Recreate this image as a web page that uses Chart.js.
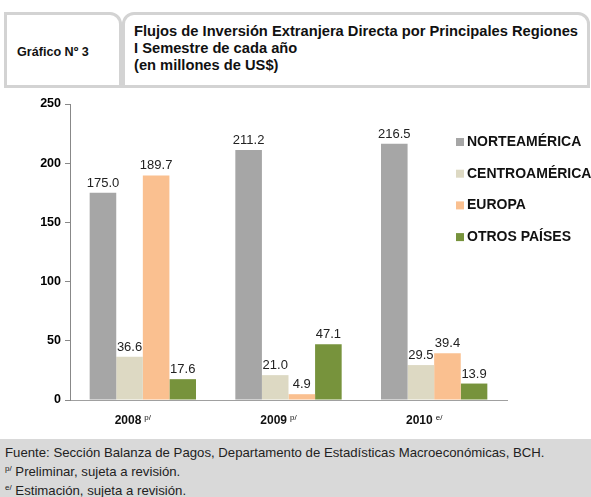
<!DOCTYPE html>
<html>
<head>
<meta charset="utf-8">
<script src="https://cdn.jsdelivr.net/npm/chart.js@4"></script>
<style>
  body { margin: 0; width: 591px; height: 497px; overflow: hidden; background: #fff; font-family: Arial, "Liberation Sans", sans-serif; position: relative; }
  .box { position: absolute; border: 3px solid #d3d3d3; box-sizing: border-box; background: #fff; }
  #boxLeft { left: 4px; top: 12px; width: 118px; height: 76px; border-top-right-radius: 12px; }
  #boxRight { left: 122px; top: 12px; width: 468px; height: 76px; border-top-left-radius: 12px; border-top-right-radius: 12px; }
  #numero { position: absolute; left: 10px; top: 30px; font-weight: bold; font-size: 12.6px; color: #111; }
  #titulo { position: absolute; left: 9px; top: 8px; font-weight: bold; font-size: 14.7px; line-height: 17px; color: #111; white-space: nowrap; }
  #chartWrap { position: absolute; left: 0; top: 90px; width: 591px; height: 349px; }
  #footer { position: absolute; left: 0; top: 439px; width: 591px; height: 58px; background: #d9d9d9; color: #222; font-size: 13.2px; line-height: 19px; padding: 4px 0 0 5px; box-sizing: border-box; white-space: nowrap; }
  #footer sup { font-size: 8px; vertical-align: 5px; line-height: 0; }
</style>
</head>
<body>
<div class="box" id="boxLeft"><div id="numero">Gráfico Nº 3</div></div>
<div class="box" id="boxRight"><div id="titulo">Flujos de Inversión Extranjera Directa por Principales Regiones<br>I Semestre de cada año<br>(en millones de US$)</div></div>
<div id="chartWrap"><canvas id="fdiChart" width="591" height="349"></canvas></div>
<div id="footer">
  Fuente: Sección Balanza de Pagos, Departamento de Estadísticas Macroeconómicas, BCH.<br>
  <sup>p/</sup> Preliminar, sujeta a revisión.<br>
  <sup>e/</sup> Estimación, sujeta a revisión.
</div>
<script>
// Datos del gráfico (millones de US$)
const years = ['2008', '2009', '2010'];
const yearNotes = ['p/', 'p/', 'e/'];
const norteamerica = [175.0, 211.2, 216.5];
const centroamerica = [36.6, 21.0, 29.5];
const europa = [189.7, 4.9, 39.4];
const otrosPaises = [17.6, 47.1, 13.9];
const yTicks = [0, 50, 100, 150, 200, 250];

const seriesNames = ['NORTEAMÉRICA', 'CENTROAMÉRICA', 'EUROPA', 'OTROS PAÍSES'];
const seriesColors = ['#a6a6a6', '#ddd9c3', '#fac090', '#77933c'];
const seriesData = [norteamerica, centroamerica, europa, otrosPaises];

// Etiquetas de valor encima de cada barra
const valueLabels = {
    id: 'valueLabels',
    afterDatasetsDraw(chart) {
        const ctx = chart.ctx;
        ctx.save();
        ctx.font = '13px Arial, "Liberation Sans"';
        ctx.fillStyle = '#222';
        ctx.textAlign = 'center';
        ctx.textBaseline = 'bottom';
        chart.data.datasets.forEach((ds, i) => {
            chart.getDatasetMeta(i).data.forEach((bar, j) => {
                ctx.fillText(ds.data[j].toFixed(1), bar.x, bar.y - 3);
            });
        });
        ctx.restore();
    }
};

// Leyenda a la derecha, superpuesta al área del gráfico
const sideLegend = {
    id: 'sideLegend',
    afterDraw(chart) {
        const ctx = chart.ctx;
        ctx.save();
        ctx.font = 'bold 14px Arial, "Liberation Sans"';
        ctx.textBaseline = 'middle';
        chart.data.datasets.forEach((ds, i) => {
            const y = 52 + i * 31.7;
            ctx.fillStyle = ds.backgroundColor;
            ctx.fillRect(456, y - 4, 8, 8);
            ctx.fillStyle = '#111';
            ctx.fillText(ds.label, 467, y);
        });
        ctx.restore();
    }
};

// Etiquetas del eje X con superíndice
const yearLabels = {
    id: 'yearLabels',
    afterDraw(chart) {
        const ctx = chart.ctx;
        const xs = chart.scales.x;
        ctx.save();
        ctx.fillStyle = '#111';
        ctx.textBaseline = 'alphabetic';
        years.forEach((yr, i) => {
            ctx.font = 'bold 12px Arial, "Liberation Sans"';
            const w1 = ctx.measureText(yr).width;
            ctx.font = '8px Arial, "Liberation Sans"';
            const w2 = ctx.measureText(yearNotes[i]).width;
            const total = w1 + 3 + w2;
            const cx = xs.getPixelForValue(i) - 10;
            const x0 = cx - total / 2;
            ctx.font = 'bold 12px Arial, "Liberation Sans"';
            ctx.fillText(yr, x0, 334);
            ctx.font = '8px Arial, "Liberation Sans"';
            ctx.fillText(yearNotes[i], x0 + w1 + 3, 330);
        });
        ctx.restore();
    }
};

new Chart(document.getElementById('fdiChart'), {
    type: 'bar',
    data: {
        labels: years,
        datasets: seriesNames.map((name, i) => ({
            label: name,
            data: seriesData[i],
            backgroundColor: seriesColors[i],
            borderWidth: 0,
            barPercentage: 1.0,
            categoryPercentage: 0.73
        }))
    },
    options: {
        responsive: false,
        devicePixelRatio: 1,
        animation: false,
        layout: { padding: { left: 0, right: 84, top: 14, bottom: 31 } },
        plugins: {
            legend: { display: false },
            tooltip: { enabled: false }
        },
        scales: {
            x: {
                grid: { display: false },
                border: { display: true, color: '#a0a0a0', width: 1 },
                ticks: { display: false }
            },
            y: {
                min: 0,
                max: 250,
                afterBuildTicks: (scale) => { scale.ticks = yTicks.map(v => ({ value: v })); },
                afterFit: (scale) => { scale.width = 70; },
                grid: { drawOnChartArea: false, drawTicks: true, tickLength: 5, color: '#888' },
                border: { display: true, color: '#888', width: 1 },
                ticks: {
                    padding: 4,
                    color: '#000',
                    font: { family: 'Arial, "Liberation Sans"', size: 12.5, weight: 'bold' }
                }
            }
        }
    },
    plugins: [valueLabels, sideLegend, yearLabels]
});
</script>
</body>
</html>
